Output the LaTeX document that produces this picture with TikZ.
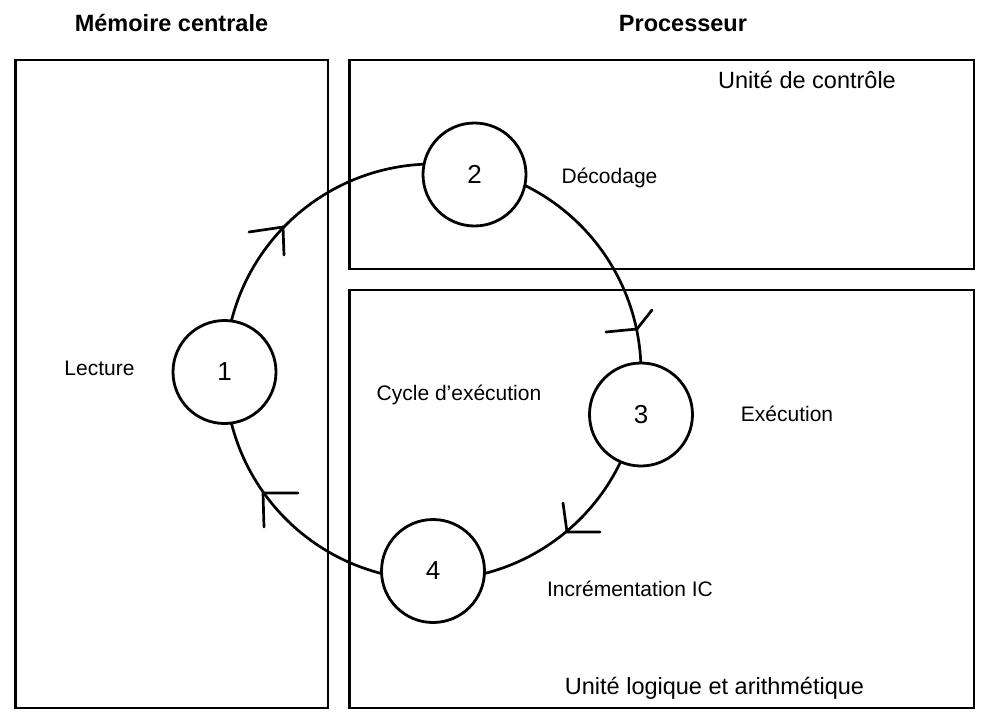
\documentclass[tikz,border=0pt]{standalone}
\usepackage{fontspec}
\setmainfont{Liberation Sans}
\begin{document}
\begin{tikzpicture}[x=1pt,y=-1pt,
  frame/.style={draw=black,line width=2.6pt},
  stage/.style={circle,draw=black,fill=white,line width=2.8pt,minimum size=103pt,inner sep=0pt,font=\fontsize{26}{31}\selectfont},
  cycle/.style={draw=black,line width=2.7pt},
  chev/.style={draw=black,line width=2.7pt,line cap=round},
  title/.style={anchor=base,font=\fontsize{23.5}{28}\selectfont\bfseries},
  unit/.style={anchor=base,font=\fontsize{23.5}{28}\selectfont},
  lbl/.style={anchor=base,font=\fontsize{21}{25}\selectfont}]
\useasboundingbox (0,0) rectangle (997,728);
\fill[white] (0,0) rectangle (997,728);
% boxes
\draw[frame] (15.5,60) rectangle (328,708);
\draw[frame] (349.5,60) rectangle (974,269);
\draw[frame] (349.5,290) rectangle (974,708);
% titles
\node[title] (tmem) at (171.5,31) {Mémoire centrale};
\node[title] (tproc) at (683,31) {Processeur};
\node[unit] (tuc) at (807,88) {Unité de contrôle};
\node[unit] (tual) at (714.5,694) {Unité logique et arithmétique};
% cycle
\coordinate (O) at (433,372);
\draw[cycle] (O) ++(193:208) arc[start angle=193,end angle=269,radius=208];
\draw[cycle] (O) ++(295:208) arc[start angle=295,end angle=359,radius=208];
\draw[cycle] (O) ++(24:208) arc[start angle=24,end angle=77,radius=208];
\draw[cycle] (O) ++(103:208) arc[start angle=103,end angle=167,radius=208];
% stages
\node[stage] (n1) at (224.5,372) {1};
\node[stage] (n2) at (474.5,174.5) {2};
\node[stage] (n3) at (641,414.5) {3};
\node[stage] (n4) at (433,571) {4};
% arrowheads
\coordinate (a1) at (283,227);
\coordinate (a2) at (637,329);
\coordinate (a3) at (567,532);
\coordinate (a4) at (263,493);
\draw[chev] (a1) -- ++(-34,5) (a1) -- ++(1,28);
\draw[chev] (a2) -- ++(-31,3) (a2) -- ++(15,-19);
\draw[chev] (a3) -- ++(-4,-29) (a3) -- ++(33,0);
\draw[chev] (a4) -- ++(35,0) (a4) -- ++(1,34);
% labels
\node[lbl] (l1) at (99.5,375) {Lecture};
\node[lbl] (l2) at (609.5,183) {Décodage};
\node[lbl] (l3) at (787,421) {Exécution};
\node[lbl] (l4) at (630,596) {Incrémentation IC};
\node[lbl] (lc) at (459,400.5) {Cycle d’exécution};
\end{tikzpicture}
\end{document}
